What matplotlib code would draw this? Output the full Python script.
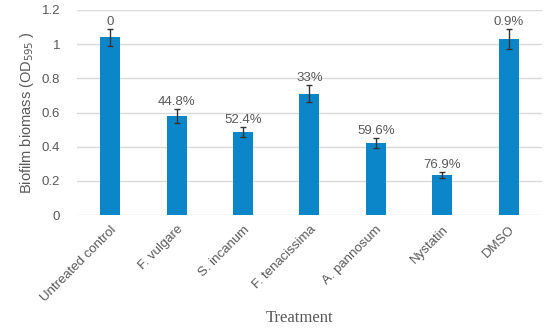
import matplotlib.pyplot as plt

plt.rcParams['font.family'] = ['Liberation Sans', 'DejaVu Sans']

treatments = ['Untreated control', 'F. vulgare', 'S. incanum', 'F. tenacissima',
              'A. pannosum', 'Nystatin', 'DMSO']
biomass = [1.04, 0.58, 0.485, 0.71, 0.42, 0.235, 1.03]
errors = [0.05, 0.04, 0.03, 0.05, 0.03, 0.02, 0.06]
labels = ['0', '44.8%', '52.4%', '33%', '59.6%', '76.9%', '0.9%']

grey = '#595959'
fig = plt.figure(figsize=(5.5, 3.3), dpi=100)
ax = fig.add_axes([0.14, 0.348, 0.845, 0.622])
x = range(len(treatments))
ax.bar(x, biomass, width=0.3, color='#0a86c9', zorder=2)
ax.errorbar(x, biomass, yerr=errors, fmt='none', ecolor='#333333', elinewidth=1, capsize=2.5, zorder=3)
for i in x:
    ax.text(i, biomass[i] + errors[i] + 0.005, labels[i], ha='center', va='bottom', fontsize=9.5, color=grey)

ax.set_ylim(0, 1.2)
ax.set_yticks([0, 0.2, 0.4, 0.6, 0.8, 1, 1.2])
ax.set_yticklabels(['0', '0.2', '0.4', '0.6', '0.8', '1', '1.2'])
ax.set_xlim(-0.5, len(treatments) - 0.5)
ax.set_xticks(list(x))
ax.set_xticklabels(treatments, rotation=45, ha='right', rotation_mode='anchor', fontsize=9.5, color=grey)
ax.tick_params(axis='y', labelsize=9.5, colors=grey, length=0, pad=12)
ax.tick_params(axis='x', length=0, pad=6)
ax.grid(axis='y', color='#d9d9d9', linewidth=1, zorder=0)
for s in ax.spines.values():
    s.set_visible(False)
ax.set_ylabel('Biofilm biomass (OD$_{595}$ )', fontsize=10.5, color=grey, labelpad=4)
fig.text(0.545, 0.025, 'Treatment', ha='center', fontsize=12, color=grey, family='Liberation Serif')

fig.savefig('out.png', dpi=100)
